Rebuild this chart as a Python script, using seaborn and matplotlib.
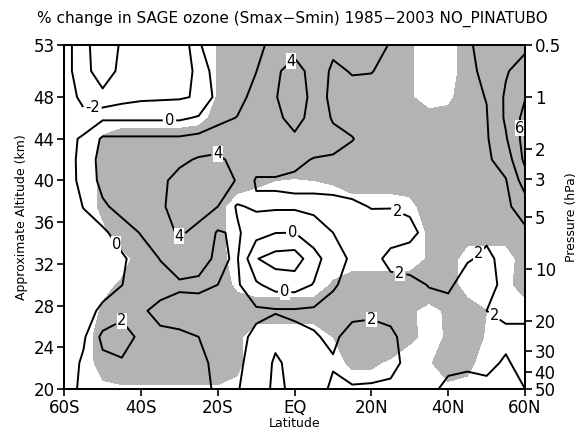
import numpy as np
import pandas as pd
import seaborn as sns
import matplotlib
matplotlib.use("Agg")
import matplotlib.pyplot as plt

# ---- data ----
lats = [-60, -55, -50, -45, -40, -35, -30, -25, -20, -15, -10, -5, 0,
        5, 10, 15, 20, 25, 30, 35, 40, 45, 50, 55, 60]
alts = [53, 50.5, 48, 46, 44, 42, 40, 37.5, 35, 32.5, 30, 27.5, 25, 22.5, 20]

# ozone % change, one column list per latitude (alt 53 ... 20)
oz_s60 = [-1.0, -0.93, -0.8, -0.8, -0.8, -0.9, -1.0, -1.0, -1.0, -1.0, -1.0, -1.0, -1.1, -1.1, -1.0]
oz_s55 = [-3.5, -3.6, -2.6, -1.4, 0.35, 0.6, 0.6, 0.05, -0.6, -0.8, -0.8, -0.6, -0.3, 0.3, 0.5]
oz_s50 = [-5.0, -4.6, -3.7, -0.3, 2.3, 2.8, 2.6, 1.7, -0.5, -0.8, -0.6, 0.3, 2.5, 1.5, 1.0]
oz_s45 = [-3.8, -3.7, -2.8, -0.3, 2.3, 3.0, 3.0, 2.6, 1.2, -0.4, -0.05, 1.5, 2.8, 1.8, 1.2]
oz_s40 = [-3.4, -3.2, -2.4, -0.3, 2.3, 3.2, 3.3, 3.1, 2.1, 1.2, 1.3, 1.8, 1.6, 1.6, 1.4]
oz_s35 = [-3.6, -3.0, -2.3, -0.3, 2.3, 3.3, 3.6, 3.7, 3.3, 2.05, 1.4, 2.4, 1.7, 1.6, 1.5]
oz_s30 = [-3.9, -2.6, -2.2, -0.3, 2.3, 3.6, 4.6, 4.8, 4.2, 2.8, 1.8, 2.5, 1.8, 1.6, 1.5]
oz_s25 = [-0.13, -1.72, -1.82, 0.2, 2.6, 4.2, 5.0, 4.6, 3.6, 2.6, 1.7, 2.6, 2.0, 1.7, 1.6]
oz_s20 = [0.8, 1.35, 0.71, 1.6, 2.74, 4.5, 4.8, 4.0, 1.8, 1.7, 2.0, 2.5, 2.4, 2.3, 2.2]
oz_s15 = [1.0, 1.6, 1.4, 2.05, 2.6, 3.2, 3.9, 1.8, 2.3, 2.2, 2.3, 2.5, 2.4, 2.3, 2.1]
oz_s10 = [1.5, 1.97, 2.6, 3.0, 3.3, 3.0, 1.8, 2.3, 0.8, -1.9, 0.3, 2.3, 1.7, 1.4, 1.3]
oz_s05 = [2.6, 3.6, 3.9, 3.6, 3.3, 3.0, 1.8, 2.3, 0.05, -2.8, -0.8, 2.2, 0.5, -0.3, -0.5]
oz_eq = [3.0, 5.0, 5.0, 4.6, 3.7, 2.4, 1.7, 2.3, 0.0, -3.0, -0.9, 2.2, 1.7, 0.6, 0.5]
oz_n05 = [2.8, 3.08, 3.5, 3.4, 3.0, 1.9, 1.6, 2.4, 1.2, -0.8, 0.1, 2.3, 1.9, 1.6, 1.5]
oz_n10 = [2.4, 1.7, 1.3, 1.8, 2.6, 1.8, 1.5, 2.4, 2.0, 1.2, 1.9, 2.3, 2.2, 1.9, 2.2]
oz_n15 = [2.3, 2.1, 1.5, 1.6, 2.05, 1.6, 1.5, 2.2, 2.4, 2.3, 2.3, 2.3, 1.6, 1.5, 2.1]
oz_n20 = [2.3, 2.05, 1.5, 1.5, 1.5, 1.5, 1.6, 1.95, 2.5, 2.5, 2.4, 2.3, 1.4, 1.3, 2.2]
oz_n25 = [1.95, 1.6, 1.5, 1.5, 1.5, 1.5, 1.5, 1.95, 2.6, 1.6, 2.4, 2.3, 1.8, 1.7, 2.2]
oz_n30 = [1.5, 1.3, 1.3, 1.3, 1.4, 1.4, 1.5, 1.8, 2.3, 1.5, 2.3, 2.4, 2.4, 2.3, 2.1]
oz_n35 = [1.4, 1.3, 1.3, 1.3, 1.4, 1.4, 1.5, 1.6, 1.6, 1.6, 1.95, 2.4, 2.5, 2.4, 2.2]
oz_n40 = [1.4, 1.4, 1.4, 1.4, 1.5, 1.5, 1.5, 1.5, 1.5, 1.6, 1.8, 2.4, 2.4, 2.2, 1.8]
oz_n45 = [1.8, 1.7, 1.6, 1.6, 1.6, 1.6, 1.6, 1.6, 1.7, 1.9, 2.5, 2.5, 2.3, 2.1, 1.8]
oz_n50 = [2.5, 2.3, 2.05, 1.9, 1.8, 1.7, 1.7, 1.7, 1.8, 2.2, 2.5, 2.0, 2.4, 2.2, 1.8]
oz_n55 = [3.0, 3.8, 4.3, 4.3, 3.8, 2.8, 1.9, 1.6, 1.6, 1.7, 1.6, 1.8, 2.2, 1.9, 1.7]
oz_n60 = [3.5, 5.0, 5.9, 6.6, 6.8, 6.5, 5.0, 3.0, 1.6, 1.5, 1.6, 1.8, 2.2, 2.3, 2.0]

# significance indicator, one row list per altitude (lat -60 ... 60); shaded > 0.5
sig_530 = [0, 0, 0, 0, 0, 0, 0, 0, 0.55, 1, 1, 1, 1, 1, 1, 1, 1, 1, 0.6, 0, 0, 1, 1, 1, 1]
sig_505 = [0, 0, 0, 0, 0, 0, 0, 0, 0.55, 1, 1, 1, 1, 1, 1, 1, 1, 1, 0.6, 0, 0, 1, 1, 1, 1]
sig_480 = [0, 0, 0, 0, 0, 0, 0, 0, 0.55, 1, 1, 1, 1, 1, 1, 1, 1, 1, 0.6, 0.1, 0.3, 1, 1, 1, 1]
sig_460 = [0, 0, 0, 0, 0, 0, 0, 0.2, 0.8, 1, 1, 1, 1, 1, 1, 1, 1, 1, 1, 0.8, 0.8, 1, 1, 1, 1]
sig_440 = [0, 0, 0.6, 1, 1, 1, 1, 1, 1, 1, 1, 1, 1, 1, 1, 1, 1, 1, 1, 1, 1, 1, 1, 1, 1]
sig_420 = [0, 0, 0.7, 1, 1, 1, 1, 1, 1, 1, 1, 1, 1, 1, 1, 1, 1, 1, 1, 1, 1, 1, 1, 1, 1]
sig_400 = [0, 0, 0.7, 1, 1, 1, 1, 1, 1, 1, 0.7, 0.5, 0.45, 0.5, 0.6, 1, 1, 1, 1, 1, 1, 1, 1, 1, 1]
sig_375 = [0, 0, 0.7, 1, 1, 1, 1, 1, 0.8, 0, 0, 0, 0, 0, 0, 0, 0, 0, 0.2, 1, 1, 1, 1, 1, 1]
sig_350 = [0, 0, 0.3, 1, 1, 1, 1, 1, 0.8, 0, 0, 0, 0, 0, 0, 0, 0, 0, 0, 0.6, 1, 1, 1, 1, 1]
sig_325 = [0, 0, 0, 0.2, 0.8, 1, 1, 1, 0.9, 0, 0, 0, 0, 0, 0, 0, 0, 0, 0, 0.6, 1, 0, 0, 0, 1]
sig_300 = [0, 0, 0.3, 0.6, 1, 1, 1, 1, 1, 0.3, 0, 0, 0, 0, 0.6, 1, 1, 1, 1, 1, 1, 0, 0, 0.2, 1]
sig_275 = [0, 0, 0.6, 1, 1, 1, 1, 1, 1, 1, 1, 1, 1, 1, 1, 1, 1, 1, 0.6, 0.3, 0.6, 1, 0.5, 0, 0]
sig_250 = [0, 0, 1, 1, 1, 1, 1, 1, 1, 0.7, 0, 0, 0, 0, 0.5, 1, 1, 1, 0.7, 0.2, 0.6, 1, 0.4, 0, 0]
sig_225 = [0, 0, 0.9, 1, 1, 1, 1, 1, 1, 0.7, 0, 0, 0, 0, 0.3, 0.6, 0.6, 0.4, 0, 0.4, 1, 0.8, 0, 0, 0]
sig_200 = [0, 0, 0.3, 0.4, 0.4, 0.4, 0.4, 0.4, 0.4, 0.3, 0, 0, 0, 0, 0, 0.2, 0.2, 0, 0, 0, 0.3, 0.2, 0, 0, 0]

contour_levels = [-4, -2, 0, 2, 4, 6]
label_spots = [(-52.7, 47), (-32.6, 45.6), (-1.3, 51.6), (-20, 42.7), (-30, 34.3),
               (-53, 32.2), (-44.9, 27), (-0.5, 35.1), (-2.6, 29.3), (26.9, 37.2),
               (27.4, 31.2), (47.5, 33.1), (20.1, 26.8), (50.1, 26), (58, 45)]
lat_ticks = [-60, -40, -20, 0, 20, 40, 60]
lat_labels = ["60S", "40S", "20S", "EQ", "20N", "40N", "60N"]
alt_ticks = [20, 24, 28, 32, 36, 40, 44, 48, 53]
p_ticks = [0.5, 1, 2, 3, 5, 10, 20, 30, 40, 50]
p_labels = ["0.5", "1", "2", "3", "5", "10", "20", "30", "40", "50"]
title = "% change in SAGE ozone (Smax\u2212Smin) 1985\u22122003 NO_PINATUBO"

# ---- build tables ----
oz_cols = [oz_s60, oz_s55, oz_s50, oz_s45, oz_s40, oz_s35, oz_s30, oz_s25, oz_s20,
           oz_s15, oz_s10, oz_s05, oz_eq, oz_n05, oz_n10, oz_n15, oz_n20, oz_n25,
           oz_n30, oz_n35, oz_n40, oz_n45, oz_n50, oz_n55, oz_n60]
sig_rows = [sig_530, sig_505, sig_480, sig_460, sig_440, sig_420, sig_400, sig_375,
            sig_350, sig_325, sig_300, sig_275, sig_250, sig_225, sig_200]
df = pd.DataFrame(np.array(oz_cols).T, index=alts, columns=lats)
sf = pd.DataFrame(np.array(sig_rows), index=alts, columns=lats)

sns.set_theme(style="white")
plt.rcParams["font.family"] = ["DejaVu Sans"]
plt.rcParams["text.color"] = "black"
plt.rcParams["axes.labelcolor"] = "black"

fig = plt.figure(figsize=(5.84, 4.37), dpi=100)
ax = fig.add_axes([0.110, 0.110, 0.789, 0.787])

X, Y = np.meshgrid(df.columns.values, df.index.values)
ax.contourf(X, Y, sf.values, levels=[0.5, 10], colors=["#b3b3b3"])
cs = ax.contour(X, Y, df.values, levels=contour_levels, colors="black",
                linewidths=1.4, linestyles="solid")
ax.clabel(cs, fmt="%d", fontsize=10.5, inline=True, inline_spacing=2,
          manual=label_spots)
for t in cs.labelTexts:
    t.set_rotation(0)
    t.set_bbox(dict(facecolor="white", edgecolor="none", pad=0.3))

ax.set_xlim(-60, 60)
ax.set_ylim(20, 53)
ax.set_xticks(lat_ticks)
ax.set_xticklabels(lat_labels)
ax.set_yticks(alt_ticks)
ax.tick_params(axis="both", direction="out", length=5, width=1.2,
               labelsize=12, colors="black", bottom=True, left=True, pad=2)
ax.set_xlabel("Latitude", fontsize=9, labelpad=0)
ax.set_ylabel("Approximate Altitude (km)", fontsize=9)
for sp in ax.spines.values():
    sp.set_color("black")
    sp.set_linewidth(1.3)

ax2 = ax.twinx()
ax2.set_yscale("log")
ax2.set_ylim(50, 0.5)
ax2.set_yticks(p_ticks)
ax2.set_yticklabels(p_labels)
ax2.yaxis.set_minor_locator(matplotlib.ticker.NullLocator())
ax2.tick_params(axis="y", direction="out", length=5, width=1.2,
                labelsize=12, colors="black", right=True, pad=2)
ax2.set_ylabel("Pressure (hPa)", fontsize=9, labelpad=3)
for sp in ax2.spines.values():
    sp.set_color("black")
    sp.set_linewidth(1.3)

fig.suptitle(title, fontsize=11, y=0.975)
fig.savefig("out.png", dpi=100)
